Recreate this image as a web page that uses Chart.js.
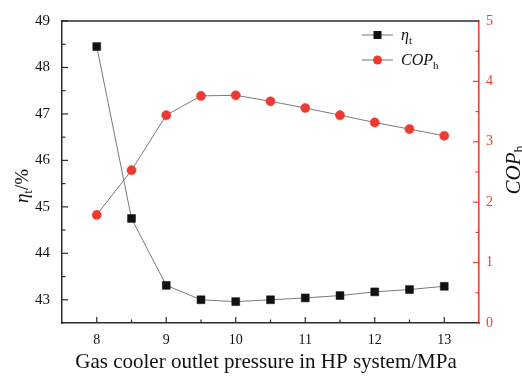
<!DOCTYPE html>
<html>
<head>
<meta charset="utf-8">
<script src="https://cdn.jsdelivr.net/npm/chart.js@4/dist/chart.umd.min.js"></script>
<style>
  html, body { margin: 0; padding: 0; background: #fff; }
  #wrap { width: 522px; height: 376px; position: relative; }
</style>
</head>
<body>
<div id="wrap"><canvas id="c" width="522" height="376"></canvas></div>
<script>
// Gas cooler outlet pressure (MPa)
const pressure = [8, 8.5, 9, 9.5, 10, 10.5, 11, 11.5, 12, 12.5, 13];
// Thermal efficiency eta_t (%)
const etaT = [48.45, 44.75, 43.31, 43.0, 42.96, 43.0, 43.04, 43.09, 43.17, 43.22, 43.29];
// Heating coefficient of performance COP_h
const copH = [1.79, 2.53, 3.44, 3.76, 3.77, 3.67, 3.56, 3.44, 3.32, 3.21, 3.10];

const xTicks = [8, 9, 10, 11, 12, 13];
const etaTicks = [43, 44, 45, 46, 47, 48, 49];
const copTicks = [0, 1, 2, 3, 4, 5];

const RED = '#ee3a33';
const AXIS = '#2b2b2b';
const SERIF = '"Liberation Serif", "Times New Roman", serif';

function richWidth(ctx, parts) {
  let w = 0;
  for (const p of parts) { ctx.font = p.font; w += ctx.measureText(p.t).width; }
  return w;
}
function drawRich(ctx, parts, x, y, align) {
  const w = richWidth(ctx, parts);
  let cx = align === 'left' ? x : x - w / 2;
  ctx.textBaseline = 'alphabetic';
  ctx.textAlign = 'left';
  for (const p of parts) {
    ctx.font = p.font;
    ctx.fillStyle = p.color || '#111';
    ctx.fillText(p.t, cx, y + (p.dy || 0));
    cx += ctx.measureText(p.t).width;
  }
}

const decorPlugin = {
  id: 'decor',
  afterDraw(chart) {
    const ctx = chart.ctx;
    const a = chart.chartArea;
    const sx = chart.scales.x, sy = chart.scales.y, sy1 = chart.scales.y1;
    ctx.save();

    // top frame line
    ctx.strokeStyle = AXIS;
    ctx.lineWidth = 1.5;
    ctx.beginPath();
    ctx.moveTo(a.left, a.top);
    ctx.lineTo(a.right, a.top);
    ctx.stroke();

    // inward tick marks (major every 1, minor every 0.5)
    ctx.lineWidth = 1.2;
    ctx.strokeStyle = AXIS;
    for (let v = 8; v <= 13.001; v += 0.5) {
      const px = sx.getPixelForValue(v);
      const len = Number.isInteger(v) ? 6 : 3.5;
      ctx.beginPath(); ctx.moveTo(px, a.bottom); ctx.lineTo(px, a.bottom - len); ctx.stroke();
    }
    for (let v = 43; v <= 49.001; v += 0.5) {
      const py = sy.getPixelForValue(v);
      const len = Number.isInteger(v) ? 6 : 3.5;
      ctx.beginPath(); ctx.moveTo(a.left, py); ctx.lineTo(a.left + len, py); ctx.stroke();
    }
    ctx.strokeStyle = RED;
    for (let v = 0.5; v <= 4.999; v += 0.5) {
      const py = sy1.getPixelForValue(v);
      const len = Number.isInteger(v) ? 6 : 3.5;
      ctx.beginPath(); ctx.moveTo(a.right, py); ctx.lineTo(a.right - len, py); ctx.stroke();
    }

    // axis titles
    ctx.save();
    ctx.translate(22, 186);
    ctx.rotate(-Math.PI / 2);
    drawRich(ctx, [
      { t: 'η', font: 'italic 19px ' + SERIF },
      { t: 't', font: '13px ' + SERIF, dy: 4 },
      { t: '/%', font: '19px ' + SERIF }
    ], 0, 6, 'center');
    ctx.restore();

    ctx.save();
    ctx.translate(513, 170);
    ctx.rotate(-Math.PI / 2);
    drawRich(ctx, [
      { t: 'COP', font: 'italic 21px ' + SERIF },
      { t: 'h', font: '14px ' + SERIF, dy: 4 }
    ], 0, 7, 'center');
    ctx.restore();

    drawRich(ctx, [
      { t: 'Gas cooler outlet pressure in HP system/MPa', font: '21px ' + SERIF }
    ], 266, 368, 'center');

    // legend
    const rows = [
      { y: 35, color: '#111', style: 'rect', parts: [
        { t: 'η', font: 'italic 16px ' + SERIF },
        { t: 't', font: '11px ' + SERIF, dy: 4 }
      ] },
      { y: 60, color: RED, style: 'circle', parts: [
        { t: 'COP', font: 'italic 16px ' + SERIF },
        { t: 'h', font: '11px ' + SERIF, dy: 4 }
      ] }
    ];
    for (const r of rows) {
      ctx.strokeStyle = '#777';
      ctx.lineWidth = 1;
      ctx.beginPath(); ctx.moveTo(362, r.y); ctx.lineTo(393, r.y); ctx.stroke();
      ctx.fillStyle = r.color;
      if (r.style === 'rect') {
        ctx.fillRect(377.5 - 4, r.y - 4, 8, 8);
      } else {
        ctx.beginPath(); ctx.arc(377.5, r.y, 4.5, 0, Math.PI * 2); ctx.fill();
      }
      drawRich(ctx, r.parts, 401, r.y + 5, 'left');
    }
    ctx.restore();
  }
};

const toXY = (ys) => pressure.map((p, i) => ({ x: p, y: ys[i] }));

new Chart(document.getElementById('c'), {
  type: 'line',
  data: {
    datasets: [
      {
        label: 'eta_t',
        data: toXY(etaT),
        yAxisID: 'y',
        borderColor: '#7a7a7a',
        borderWidth: 1,
        pointStyle: 'rect',
        pointRadius: 5.6,
        pointBackgroundColor: '#111',
        pointBorderColor: '#111',
        pointBorderWidth: 0.5,
        tension: 0
      },
      {
        label: 'COP_h',
        data: toXY(copH),
        yAxisID: 'y1',
        borderColor: '#7a7a7a',
        borderWidth: 1,
        pointStyle: 'circle',
        pointRadius: 4.6,
        pointBackgroundColor: RED,
        pointBorderColor: RED,
        pointBorderWidth: 0.5,
        tension: 0
      }
    ]
  },
  options: {
    responsive: false,
    animation: false,
    devicePixelRatio: 1,
    layout: { padding: { top: 15, left: 0, right: 0, bottom: 0 } },
    plugins: { legend: { display: false }, tooltip: { enabled: false } },
    scales: {
      x: {
        type: 'linear',
        min: 7.5, max: 13.5,
        afterBuildTicks: (s) => { s.ticks = xTicks.map(v => ({ value: v })); },
        afterFit: (s) => { s.height = 53; },
        grid: { drawOnChartArea: false, drawTicks: false },
        border: { display: true, color: AXIS, width: 1.5 },
        ticks: { padding: 9, color: '#111', font: { family: SERIF, size: 14 } }
      },
      y: {
        type: 'linear',
        position: 'left',
        min: 42.5, max: 49,
        afterBuildTicks: (s) => { s.ticks = etaTicks.map(v => ({ value: v })); },
        afterFit: (s) => { s.width = 62; },
        grid: { drawOnChartArea: false, drawTicks: false },
        border: { display: true, color: AXIS, width: 1.5 },
        ticks: { padding: 12, color: '#111', font: { family: SERIF, size: 15 } }
      },
      y1: {
        type: 'linear',
        position: 'right',
        min: 0, max: 5,
        afterBuildTicks: (s) => { s.ticks = copTicks.map(v => ({ value: v })); },
        afterFit: (s) => { s.width = 43; },
        grid: { drawOnChartArea: false, drawTicks: false },
        border: { display: true, color: RED, width: 1.5 },
        ticks: { padding: 7, color: RED, font: { family: SERIF, size: 14 } }
      }
    }
  },
  plugins: [decorPlugin]
});
</script>
</body>
</html>
